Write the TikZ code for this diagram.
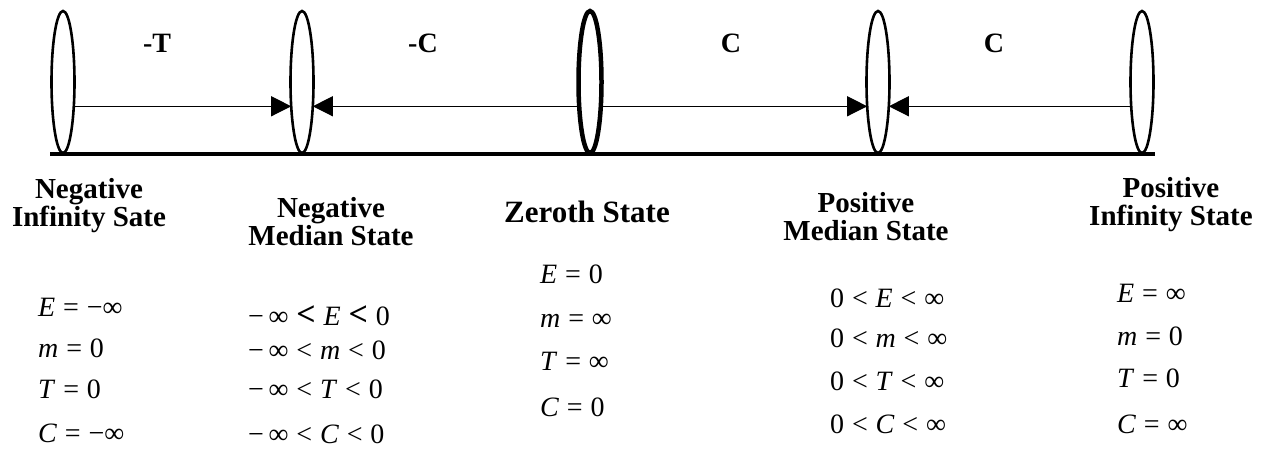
\documentclass[tikz,border=0pt]{standalone}
\usepackage{fontspec}
\setmainfont{Liberation Serif}
\usetikzlibrary{arrows.meta,shapes.geometric}
\newcommand\rl[1]{\hspace{0.28em}#1\hspace{0.28em}}
\newcommand\vr[1]{\textit{#1}}
\newcommand\bl{\textbf{\fontsize{34}{34}\selectfont<}}
\tikzset{
  state/.style={draw, ellipse, line width=2.6pt, minimum width=23pt, minimum height=142pt, inner sep=0pt, outer sep=0pt},
  zerostate/.style={state, line width=4.5pt, minimum width=23pt, minimum height=142pt},
  head/.style={font=\fontsize{29}{28}\selectfont\bfseries, align=center, anchor=base, inner sep=0pt},
  lab/.style={font=\fontsize{28}{28}\selectfont\bfseries, anchor=base, inner sep=0pt},
  eq/.style={font=\fontsize{28}{28}\selectfont, anchor=base west, inner sep=0pt},
  conn/.style={line width=1.2pt, -{Triangle[length=20pt,width=20pt]}},
}
\begin{document}
\begin{tikzpicture}[x=1pt,y=-1pt]
\useasboundingbox (0,0) rectangle (1269,458);
% ellipses
\node[state] (e1) at (63,82) {};
\node[state] (e2) at (302,82) {};
\node[zerostate] (e3) at (590,82) {};
\node[state] (e4) at (878,82) {};
\node[state] (e5) at (1142,82) {};
% base line
\coordinate (bl) at (50,154);
\coordinate (br) at (1155,154);
\draw[line width=4.5pt] (bl) -- (br);
% connectors
\draw[conn] (e1.-66) -- (e2.-114);
\draw[conn] (e3.-114) -- (e2.-66);
\draw[conn] (e3.-66) -- (e4.-114);
\draw[conn] (e5.-114) -- (e4.-66);
% labels
\node[lab] (l1) at (157,52) {-T};
\node[lab] (l2) at (423,52) {-C};
\node[lab] (l3) at (731,52) {C};
\node[lab] (l4) at (994,52) {C};
% headers (anchored at last line's baseline)
\node[head] (h1) at (89,226) {Negative\\Infinity Sate};
\node[head] (h2) at (331,245) {Negative\\Median State};
\node[head, font=\fontsize{31}{30}\selectfont\bfseries] (h3) at (587,222) {Zeroth State};
\node[head] (h4) at (866,240) {Positive\\Median State};
\node[head] (h5) at (1171,225) {Positive\\Infinity State};
% column 1
\node[eq] (a1) at (38,316) {\vr{E}\rl{=}−∞};
\node[eq] (a2) at (38,357) {\vr{m}\rl{=}0};
\node[eq] (a3) at (38,398) {\vr{T}\rl{=}0};
\node[eq] (a4) at (38,442) {\vr{C}\rl{=}−∞};
% column 2
\node[eq] (b1) at (248,325) {−\,∞\rl{\bl}\vr{E}\rl{\bl}0};
\node[eq] (b2) at (248,359) {−\,∞\rl{<}\vr{m}\rl{<}0};
\node[eq] (b3) at (248,398) {−\,∞\rl{<}\vr{T}\rl{<}0};
\node[eq] (b4) at (248,443) {−\,∞\rl{<}\vr{C}\rl{<}0};
% column 3
\node[eq] (c1) at (540,283) {\vr{E}\rl{=}0};
\node[eq] (c2) at (540,327) {\vr{m}\rl{=}∞};
\node[eq] (c3) at (540,370) {\vr{T}\rl{=}∞};
\node[eq] (c4) at (540,416) {\vr{C}\rl{=}0};
% column 4
\node[eq] (d1) at (830,307) {0\rl{<}\vr{E}\rl{<}∞};
\node[eq] (d2) at (830,347) {0\rl{<}\vr{m}\rl{<}∞};
\node[eq] (d3) at (830,390) {0\rl{<}\vr{T}\rl{<}∞};
\node[eq] (d4) at (830,433) {0\rl{<}\vr{C}\rl{<}∞};
% column 5
\node[eq] (f1) at (1117,302) {\vr{E}\rl{=}∞};
\node[eq] (f2) at (1117,345) {\vr{m}\rl{=}0};
\node[eq] (f3) at (1117,387) {\vr{T}\rl{=}0};
\node[eq] (f4) at (1117,433) {\vr{C}\rl{=}∞};
\end{tikzpicture}
\end{document}
